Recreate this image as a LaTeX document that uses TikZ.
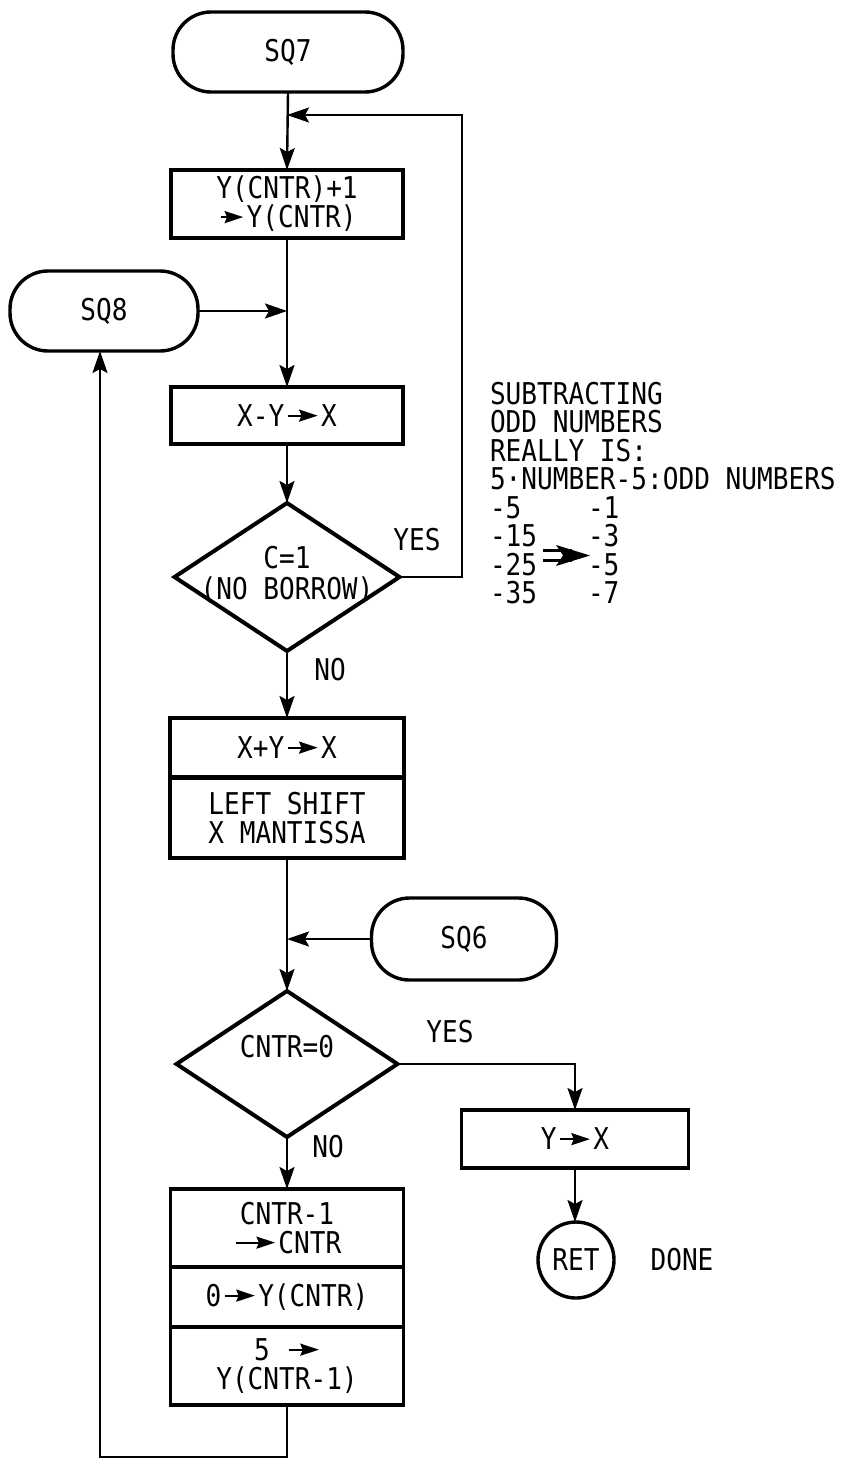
\documentclass[tikz,border=0pt]{standalone}
\usepackage{fontspec}
\setmainfont{DejaVu Sans Mono}[FakeStretch=0.87]
\usetikzlibrary{shapes.geometric,arrows.meta}
\newcommand{\ra}[1][1.0em]{\hspace{0.08em}\tikz[baseline=-0.36em]{\draw[line width=2pt,-{Stealth[length=0.62em,width=0.4em,inset=0.08em]}] (0,0)--(#1,0);}\hspace{0.08em}}
\begin{document}
\begin{tikzpicture}[x=1pt,y=-1pt,
  every node/.style={font=\fontsize{30}{29}\selectfont, inner sep=0pt, outer sep=0pt},
  box/.style={draw, line width=3.8pt, minimum width=232pt, align=center},
  term/.style={draw, line width=3.4pt, rounded corners=38pt, minimum height=80pt},
  dec/.style={draw, diamond, line width=4pt},
  conn/.style={line width=2.4pt},
  arr/.style={conn, -{Stealth[length=22pt,width=15pt,inset=4pt]}}
]
\useasboundingbox (0,0) rectangle (847,1461);

% nodes
\node[term, minimum width=230pt] (sq7) at (288,52) {SQ7};
\node[box, minimum height=68pt] (b1) at (287,204) {Y(CNTR)+1\\\ra[0.75em]Y(CNTR)};
\node[term, minimum width=188pt] (sq8) at (104,311) {SQ8};
\node[box, minimum height=57pt] (b2) at (287,415.5) {X-Y\ra X};
\node[dec, minimum width=225pt, minimum height=148pt] (d1) at (287,577) {};
\node (d1t) at (287,558) {C=1};
\node (d1u) at (287,590) {(NO BORROW)};
\node[box, minimum width=234pt, minimum height=59pt] (b3a) at (287,747.5) {X+Y\ra X};
\node[box, minimum width=234pt, minimum height=80pt] (b3b) at (287,818) {LEFT SHIFT\\X MANTISSA};
\node[term, minimum width=185pt, minimum height=82pt] (sq6) at (464,939) {SQ6};
\node[dec, minimum width=221pt, minimum height=146pt] (d2) at (287,1064) {};
\node (d2t) at (287,1047) {CNTR=0};
\node[box, minimum width=227pt, minimum height=58pt] (b4) at (575,1139) {Y\ra X};
\node[draw, circle, line width=3.4pt, minimum size=76pt] (ret) at (576,1260) {RET};
\node (done) at (682,1260) {DONE};
\node[box, minimum width=233pt, minimum height=78pt] (b5a) at (287,1228) {CNTR-1\\\ra[1.3em]CNTR};
\node[box, minimum width=233pt, minimum height=60pt] (b5b) at (287,1297) {0\ra Y(CNTR)};
\node[box, minimum width=233pt, minimum height=78pt] (b5c) at (287,1366) {5 \ra\\Y(CNTR-1)};

% labels
\node (yes1) at (417,540) {YES};
\node (no1) at (330,670) {NO};
\node (yes2) at (450,1032) {YES};
\node (no2) at (328,1147) {NO};

% notes
\node[anchor=base west] (t1) at (490,404) {SUBTRACTING};
\node[anchor=base west] (t2) at (490,432.5) {ODD NUMBERS};
\node[anchor=base west] (t3) at (490,461) {REALLY IS:};
\node[anchor=base west] (t4) at (490,489.5) {5·NUMBER-5:ODD NUMBERS};
\node[anchor=base west] (a1) at (490,518) {-5};
\node[anchor=base west] (a2) at (490,546.5) {-15};
\node[anchor=base west] (a3) at (490,575) {-25};
\node[anchor=base west] (a4) at (490,603.5) {-35};
\node[anchor=base west] (c1) at (588,518) {-1};
\node[anchor=base west] (c2) at (588,546.5) {-3};
\node[anchor=base west] (c3) at (588,575) {-5};
\node[anchor=base west] (c4) at (588,603.5) {-7};
\draw[line width=2.6pt] (543,550.5) -- (572,550.5) (543,560.5) -- (572,560.5);
\fill (556,545) -- (590,555.5) -- (556,566) -- (563,555.5) -- cycle;

% coordinates
\coordinate (j1) at (287,115);
\coordinate (lr) at (462,115);
\coordinate (bl) at (100,1457);
\coordinate (br) at (287,1457);

% connectors
\draw[arr] (sq7.south) -- (b1.north);
\draw[arr] (d1.east) -| (lr) -- (j1);
\draw[arr] (b1.south) -- (b2.north);
\draw[arr] (sq8.east) -- (sq8.east -| b1.south);
\draw[arr] (b2.south) -- (d1.north);
\draw[arr] (d1.south) -- (b3a.north);
\draw[arr] (b3b.south) -- (d2.north);
\draw[arr] (sq6.west) -- (sq6.west -| b3b.south);
\draw[arr] (d2.east) -| (b4.north);
\draw[arr] (d2.south) -- (b5a.north);
\draw[arr] (b4.south) -- (b4.south |- ret.north);
\draw[arr] (b5c.south) -- (br) -- (bl) -- (bl |- sq8.south);
\end{tikzpicture}
\end{document}
